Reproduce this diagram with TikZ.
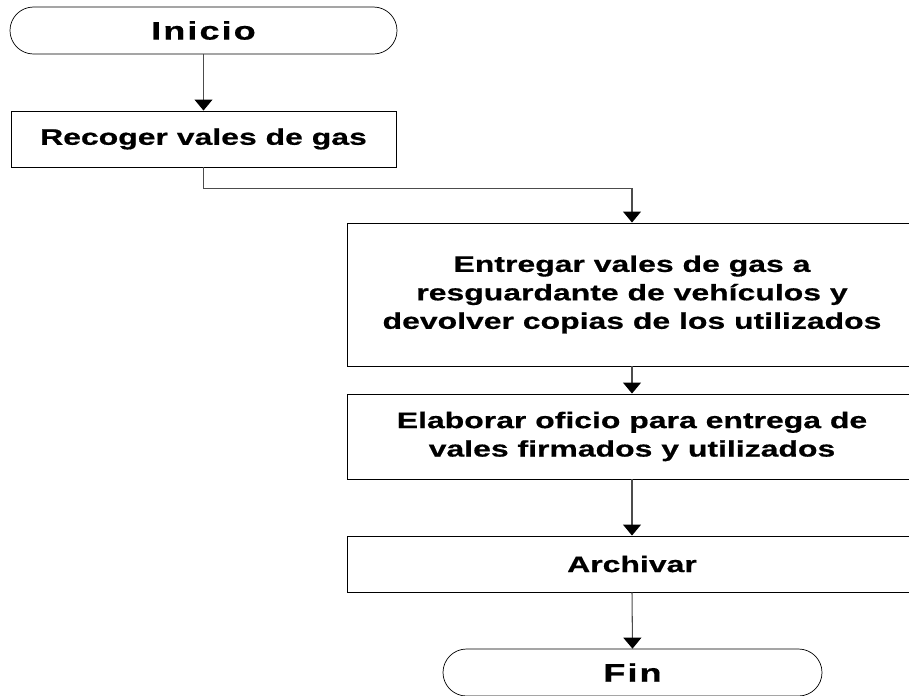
\documentclass[tikz,border=0pt]{standalone}
\usepackage{fontspec}
\setmainfont{Liberation Sans}[FakeStretch=1.42,BoldFeatures={FakeBold=0.6}]
\usetikzlibrary{shapes.misc,positioning,arrows.meta}
\tikzset{
proceso/.style={
  rectangle,
  draw=black,
  line width=0.8pt,
  font=\bfseries\fontsize{19.2}{24.3}\selectfont,
  align=center,
  inner sep=0pt
  },
terminal/.style={
  rounded rectangle,
  draw=black,
  line width=0.6pt,
  font=\bfseries\fontsize{21.7}{26}\selectfont\addfontfeature{LetterSpace=8},
  inner sep=0pt
  },
flecha/.style={
  draw=black!70,
  line width=0.9pt
  }
}

\begin{document}
\begin{tikzpicture}[x=0.03cm,y=-0.03cm,
  >={Triangle[width=0.54cm,length=0.33cm,color=black]}]
\useasboundingbox (0,0) rectangle (909,695);

\node[terminal, minimum width=11.61cm, minimum height=1.41cm]
  at (203.5,30.5) (inicio) {Inicio};
\node[proceso, minimum width=11.55cm, minimum height=1.68cm]
  at (203.5,139) (recoger) {Recoger vales de gas};
\node[proceso, minimum width=17.1cm, minimum height=4.29cm]
  at (632,294.5) (entregar)
  {Entregar vales de gas a\\resguardante de vehículos y\\devolver copias de los utilizados};
\node[proceso, minimum width=17.1cm, minimum height=2.55cm]
  at (632,436.5) (elaborar)
  {Elaborar oficio para entrega de\\vales firmados y utilizados};
\node[proceso, minimum width=17.1cm, minimum height=1.68cm]
  at (632,564) (archivar) {Archivar};
\node[terminal, minimum width=11.37cm, minimum height=1.41cm]
  at (632.5,672.5) (fin) {Fin};

\begin{scope}[flecha]
\draw[->] (inicio.south) -- (recoger.north);
\draw[->] (recoger.south) -- ++(0,21) -| (entregar.north);
\draw[->] (entregar.south) -- (elaborar.north);
\draw[->] (elaborar.south) -- (archivar.north);
\draw[->] (archivar.south) -- (fin.north);
\end{scope}
\end{tikzpicture}
\end{document}
